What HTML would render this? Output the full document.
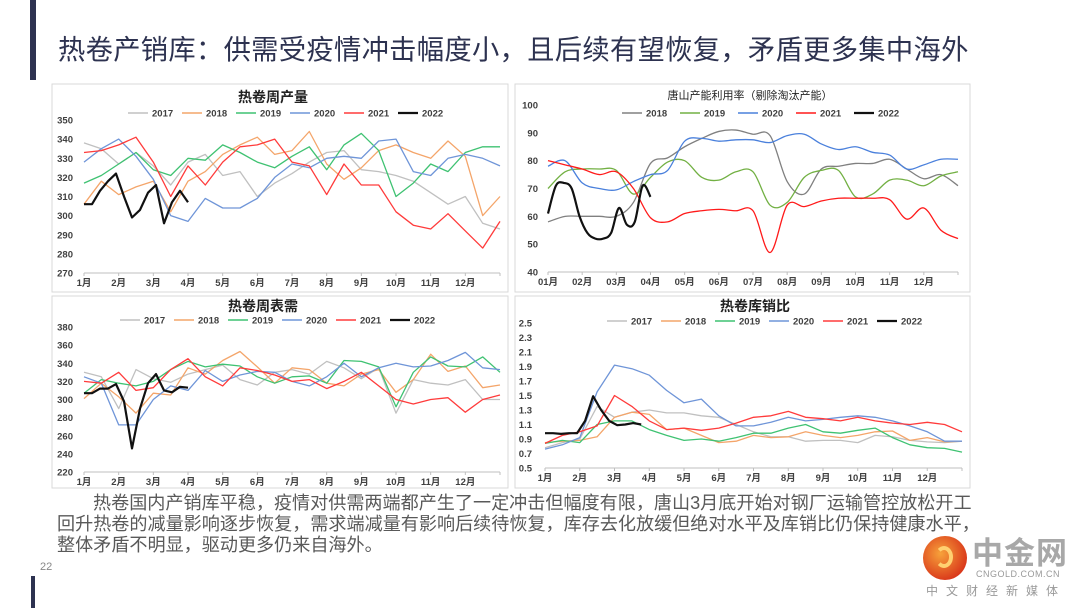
<!DOCTYPE html>
<html><head><meta charset="utf-8">
<style>
body{margin:0;background:#fff;}
#page{position:relative;width:1080px;height:608px;overflow:hidden;background:#fff;font-family:"Liberation Sans","Noto Sans CJK SC",sans-serif;}
.abs{position:absolute;}
#title{left:58px;top:27px;font-size:27.3px;color:#2d3250;white-space:nowrap;letter-spacing:0.3px;}
.body{left:57px;font-size:18.1px;color:#595959;white-space:nowrap;line-height:20px;}
</style></head>
<body>
<div id="page">
  <div class="abs" style="left:30px;top:0;width:6px;height:80px;background:#2d3250"></div>
  <div class="abs" style="left:31px;top:576px;width:4px;height:32px;background:#2d3250"></div>
  <div id="title" class="abs">热卷产销库：供需受疫情冲击幅度小，且后续有望恢复，矛盾更多集中海外</div>
  <svg id="charts" class="abs" style="left:0;top:0" width="1080" height="608"></svg>
  <div class="abs body" style="left:93px;top:493px">热卷国内产销库平稳，疫情对供需两端都产生了一定冲击但幅度有限，唐山3月底开始对钢厂运输管控放松开工</div>
  <div class="abs body" style="top:514px">回升热卷的减量影响逐步恢复，需求端减量有影响后续待恢复，库存去化放缓但绝对水平及库销比仍保持健康水平，</div>
  <div class="abs body" style="top:535px">整体矛盾不明显，驱动更多仍来自海外。</div>
  <div class="abs" style="left:40px;top:561px;font-size:11px;color:#888">22</div>
  <div class="abs" style="left:923px;top:536px;width:44px;height:44px;border-radius:50%;background:radial-gradient(circle at 40% 40%,#f7a23a,#d9361a 75%)">
    <div style="position:absolute;left:12px;top:10px;width:18px;height:22px;border-radius:50%;border:4px solid #ffd070;border-left-color:transparent;box-sizing:border-box"></div>
  </div>
  <div class="abs" style="left:972px;top:528px;font-size:31px;font-weight:bold;color:#a8a8a8;letter-spacing:1px">中金网</div>
  <div class="abs" style="left:976px;top:569px;font-size:9px;color:#999;letter-spacing:0.5px">CNGOLD.COM.CN</div>
  <div class="abs" style="left:926px;top:582px;font-size:12px;color:#999;letter-spacing:8px">中文财经新媒体</div>
</div>
<script>
// ---------- Chart 1: 热卷周产量 (semi-monthly, 2022 weekly) ----------
const c1Years = ['2017','2018','2019','2020','2021','2022'];
const c1_2017 = [338,335,327,333,326,316,328,332,321,323,310,317,322,328,333,334,324,323,321,318,312,306,310,296,293];
const c1_2018 = [306,318,311,315,318,302,318,323,332,337,341,332,334,344,327,319,325,334,337,333,330,339,331,300,310];
const c1_2019 = [317,321,327,333,324,321,330,329,337,333,328,325,331,336,324,337,343,334,310,317,327,323,333,336,336];
const c1_2020 = [328,335,340,331,319,300,297,309,304,304,309,320,327,325,330,331,330,339,340,323,321,330,332,330,326];
const c1_2021 = [333,334,337,341,328,310,326,316,328,336,337,340,328,326,311,327,316,316,302,295,293,301,292,283,297];
const c1_2022 = [306,306,313,318,322,310,299,303,312,316,296,307,313,307];
const c1Ticks = [270,280,290,300,310,320,330,340,350];
// ---------- Chart 2: 唐山产能利用率 ----------
const c2Years = ['2018','2019','2020','2021','2022'];
const c2_2018 = [58,60,60,60,60,65,79,81,85,88,90.5,91,89.5,89,72.5,68,77,78,79,79,80.5,77,73.5,75,71];
const c2_2019 = [70,76,77,77,76.5,68,74,79.5,80,74,73,76,76,64,65,74,76.5,76.5,67,68,73,73,71,74.5,76];
const c2_2020 = [78,80,72,70,69.5,72.5,75,76.5,87,88,87,87.5,87.5,86.5,89,89.5,86,84,85,83,82,77,78.5,80.5,80.5];
const c2_2021 = [80,78.5,77,75,76,70,59.5,58,61,62,62.5,62,62,47,64,63.5,65.5,66.5,66.5,66.5,66,59,63,55,52];
const c2_2022 = [61,71,72,70,60,54,52,52,54,63,57,58,71,67];
const c2Ticks = [40,50,60,70,80,90,100];
// ---------- Chart 3: 热卷周表需 ----------
const c3Years = ['2017','2018','2019','2020','2021','2022'];
const c3_2017 = [330,325,290,333,323,319,328,333,338,322,316,330,333,328,342,335,323,335,285,322,318,316,322,300,300];
const c3_2018 = [301,318,303,285,307,305,335,328,343,353,336,318,335,333,318,315,328,333,308,322,350,331,337,313,316];
const c3_2019 = [307,322,318,315,320,333,342,336,339,337,325,318,325,326,318,343,342,336,292,330,347,337,336,347,330];
const c3_2020 = [325,318,272,272,300,315,310,332,320,327,331,330,320,315,325,340,325,335,340,336,337,343,352,335,333];
const c3_2021 = [320,318,330,310,313,333,345,325,315,335,332,327,320,322,312,320,330,315,300,295,300,302,286,300,305];
const c3_2022 = [307,307,312,312,317,298,246,290,318,328,310,308,314,313];
const c3Ticks = [220,240,260,280,300,320,340,360,380];
// ---------- Chart 4: 热卷库销比 ----------
const c4Years = ['2017','2018','2019','2020','2021','2022'];
const c4_2017 = [0.78,0.85,0.9,1.35,1.2,1.27,1.3,1.26,1.26,1.22,1.2,1.1,1.0,0.93,0.93,0.87,0.88,0.88,0.85,0.95,0.93,0.88,0.86,0.85,0.87];
const c4_2018 = [0.85,0.87,0.88,0.93,1.2,1.27,1.24,1.03,1.05,0.95,0.85,0.87,0.95,0.92,0.93,1.0,0.95,0.92,0.95,1.0,1.01,0.88,0.92,0.86,0.87];
const c4_2019 = [0.84,0.88,0.85,1.1,1.15,1.15,1.03,0.95,0.88,0.9,0.87,0.92,0.98,0.98,1.05,1.1,1.0,0.98,1.02,1.05,0.92,0.82,0.78,0.77,0.72];
const c4_2020 = [0.76,0.82,0.92,1.55,1.92,1.87,1.78,1.57,1.4,1.45,1.22,1.08,1.08,1.13,1.2,1.15,1.17,1.2,1.22,1.2,1.15,1.08,1.0,0.87,0.87];
const c4_2021 = [0.84,0.95,1.0,1.08,1.5,1.35,1.15,1.03,1.05,1.02,1.05,1.12,1.2,1.22,1.28,1.2,1.18,1.15,1.2,1.15,1.12,1.1,1.13,1.1,1.0];
const c4_2022 = [0.98,0.98,0.97,0.98,0.98,1.15,1.49,1.3,1.15,1.09,1.1,1.12,1.1];
const c4Ticks = [0.5,0.7,0.9,1.1,1.3,1.5,1.7,1.9,2.1,2.3,2.5];

const monthsA = ['1月','2月','3月','4月','5月','6月','7月','8月','9月','10月','11月','12月'];
const monthsB = ['01月','02月','03月','04月','05月','06月','07月','08月','09月','10月','11月','12月'];

const NS='http://www.w3.org/2000/svg';
const svg=document.getElementById('charts');
function mk(tag,attrs,parent){const e=document.createElementNS(NS,tag);for(const k in attrs)e.setAttribute(k,attrs[k]);(parent||svg).appendChild(e);return e;}

function smoothPath(pts){
  let d='M'+pts[0][0]+','+pts[0][1];
  for(let i=0;i<pts.length-1;i++){
    const p0=pts[i-1]||pts[i],p1=pts[i],p2=pts[i+1],p3=pts[i+2]||p2;
    const c1x=p1[0]+(p2[0]-p0[0])/6,c1y=p1[1]+(p2[1]-p0[1])/6;
    const c2x=p2[0]-(p3[0]-p1[0])/6,c2y=p2[1]-(p3[1]-p1[1])/6;
    d+=' C'+c1x+','+c1y+' '+c2x+','+c2y+' '+p2[0]+','+p2[1];
  }
  return d;
}

function drawChart(cfg){
  const g=mk('g',{});
  
  
  const frame=mk('rect',{x:cfg.box[0],y:cfg.box[1],width:cfg.box[2],height:cfg.box[3],fill:'#fff',stroke:'#d9d9d9','stroke-width':1},g);
  
  
  const t=mk('text',{x:cfg.titleX,y:cfg.titleY,'text-anchor':'middle','font-size':cfg.titleSize,'font-weight':cfg.titleBold?'bold':'normal',fill:'#222','font-family':'"Liberation Sans","Noto Sans CJK SC",sans-serif'},g);
  t.textContent=cfg.title;
  
  
  const x0=cfg.plot[0],x1=cfg.plot[1],yTop=cfg.plot[2],yBot=cfg.plot[3];
  const ymin=cfg.ticks[0],ymax=cfg.ticks[cfg.ticks.length-1];
  const xs=w=>x0+(x1-x0)*w/52;
  const ys=v=>yBot-(yBot-yTop)*(v-ymin)/(ymax-ymin);
  cfg.ticks.forEach(v=>{
    const tl=mk('text',{x:cfg.labelX,y:ys(v)+3.5,'text-anchor':'end','font-size':9.5,'font-weight':'bold',fill:'#404040'},g);
    tl.textContent=cfg.fmt?cfg.fmt(v):v;
    
    
  });
  const ax=mk('line',{x1:x0,x2:x1,y1:yBot,y2:yBot,stroke:'#bfbfbf','stroke-width':1},g);
  
  
  cfg.months.forEach((m,i)=>{
    const wx=xs(i*52/12);
    mk('line',{x1:wx,x2:wx,y1:yBot,y2:yBot+3,stroke:'#bfbfbf'},g);
    const ml=mk('text',{x:wx,y:yBot+13,'text-anchor':'middle','font-size':9.5,'font-weight':'bold',fill:'#404040'},g);
    ml.textContent=m;
    
    
  });
  mk('line',{x1:x1,x2:x1,y1:yBot,y2:yBot+3,stroke:'#bfbfbf'},g);
  cfg.series.forEach((s,si)=>{
    const step=s.weekly?1:52/24;
    const pts=s.data.map((v,i)=>[xs(i*step),ys(v)]);
    let d;
    if(cfg.smooth) d=smoothPath(pts);
    else d='M'+pts.map(p=>p[0].toFixed(1)+','+p[1].toFixed(1)).join(' L');
    const p=mk('path',{d:d,fill:'none',stroke:s.color,'stroke-width':s.weekly?2.2:1.3,'stroke-linejoin':'round'},g);
    
    
    const lx=cfg.legendX+si*cfg.legendGap;
    const ll=mk('line',{x1:lx,x2:lx+20,y1:cfg.legendY,y2:cfg.legendY,stroke:s.color,'stroke-width':s.weekly?2.2:1.5},g);
    
    
    const lt=mk('text',{x:lx+24,y:cfg.legendY+3.5,'font-size':9.5,'font-weight':'bold',fill:'#404040'},g);
    lt.textContent=s.year;
    
    
  });
}
const colA=['#c0c0c0','#f4a56a','#3fc272','#6f95d8','#ff3b3b','#111'];
const colB=['#808080','#72b043','#4a80dc','#ff1a1a','#111'];
drawChart({name:'chart-hrc-weekly-output',box:[52,84,456,208],title:'热卷周产量',titleX:273,titleY:102,titleSize:14,titleBold:true,
  plot:[84,500,120,273],ticks:c1Ticks,labelX:73,months:monthsA,legendX:128,legendGap:54,legendY:113,smooth:false,
  series:[c1_2017,c1_2018,c1_2019,c1_2020,c1_2021,c1_2022].map((d,i)=>({year:c1Years[i],data:d,color:colA[i],weekly:i===5}))});
drawChart({name:'chart-tangshan-utilization',box:[515,84,455,208],title:'唐山产能利用率（剔除淘汰产能）',titleX:750,titleY:99,titleSize:11,titleBold:false,
  plot:[548,958,105,272],ticks:c2Ticks,labelX:538,months:monthsB,legendX:622,legendGap:58,legendY:113,smooth:true,
  series:[c2_2018,c2_2019,c2_2020,c2_2021,c2_2022].map((d,i)=>({year:c2Years[i],data:d,color:colB[i],weekly:i===4}))});
drawChart({name:'chart-hrc-weekly-demand',box:[52,296,456,192],title:'热卷周表需',titleX:263,titleY:311,titleSize:14,titleBold:true,
  plot:[84,500,327,472],ticks:c3Ticks,labelX:73,months:monthsA,legendX:120,legendGap:54,legendY:320,smooth:false,
  series:[c3_2017,c3_2018,c3_2019,c3_2020,c3_2021,c3_2022].map((d,i)=>({year:c3Years[i],data:d,color:colA[i],weekly:i===5}))});
drawChart({name:'chart-hrc-stock-sales-ratio',box:[515,296,455,192],title:'热卷库销比',titleX:755,titleY:311,titleSize:14,titleBold:true,
  plot:[545,962,323,468],ticks:c4Ticks,labelX:532,months:monthsA,legendX:607,legendGap:54,legendY:321,smooth:false,fmt:v=>v.toFixed(1),
  series:[c4_2017,c4_2018,c4_2019,c4_2020,c4_2021,c4_2022].map((d,i)=>({year:c4Years[i],data:d,color:colA[i],weekly:i===5}))});
</script>
</body></html>
